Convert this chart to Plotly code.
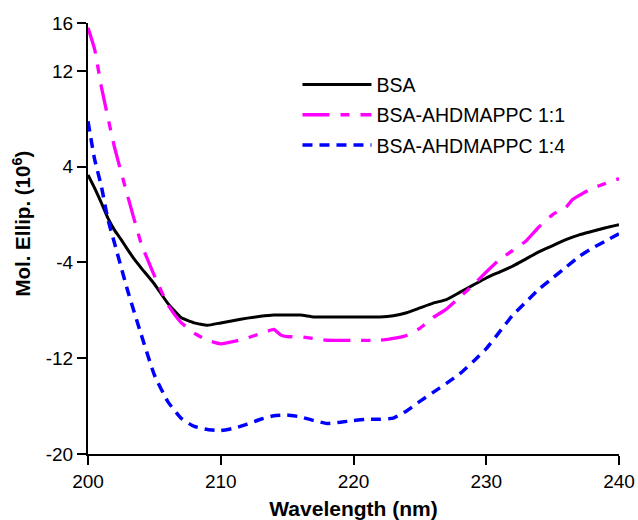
import plotly.graph_objects as go

# CD spectra: wavelength (nm) vs molar ellipticity (x10^6)
bsa_wl = [200, 200.5, 201, 201.5, 202, 202.5, 203, 203.5, 204, 205, 206, 207, 208, 209, 210,
          211, 212, 213, 214, 215, 216, 217, 218, 220, 222, 223, 224, 225, 226, 227, 228,
          229, 230, 231, 232, 233, 234, 235, 236, 237, 238, 239, 240]
bsa_val = [3.3, 2.2, 1.0, -0.3, -1.3, -2.1, -2.95, -3.75, -4.45, -5.8, -7.4, -8.6, -9.05, -9.25, -9.05,
           -8.85, -8.65, -8.5, -8.4, -8.4, -8.4, -8.55, -8.55, -8.55, -8.55, -8.45, -8.2, -7.8, -7.4, -7.1, -6.5,
           -5.9, -5.3, -4.8, -4.3, -3.7, -3.1, -2.6, -2.1, -1.7, -1.4, -1.1, -0.85]

r11_wl = [200, 200.5, 201, 202, 203, 204, 205, 206, 207, 208, 209, 210, 211, 212, 213, 214,
          214.5, 215, 216, 217, 218, 220, 222, 223, 224, 225, 226, 227, 228, 229, 230, 231,
          232, 233, 234, 235, 236, 236.5, 237, 238, 239, 240]
r11_val = [15.6, 13.8, 10.7, 5.6, 1.5, -2.4, -5.1, -7.5, -9.0, -9.9, -10.5, -10.8, -10.6, -10.3, -9.95, -9.6,
           -10.05, -10.2, -10.2, -10.35, -10.5, -10.5, -10.5, -10.35, -10.1, -9.5, -8.6, -7.9, -6.9, -5.9, -4.8, -3.75,
           -3.0, -2.2, -1.0, 0.0, 0.6, 1.25, 1.6, 2.2, 2.6, 3.0]

r14_wl = [200, 200.5, 201, 201.5, 202, 203, 204, 205, 206, 207, 208, 209, 210, 211, 212, 213,
          214, 215, 216, 217, 218, 219, 220, 221, 222, 223, 224, 225, 226, 227, 228, 229,
          230, 231, 232, 233, 234, 235, 236, 237, 238, 239, 240]
r14_val = [7.8, 4.6, 2.4, -0.4, -2.4, -6.4, -10.0, -13.4, -15.6, -17.0, -17.7, -17.95, -18.05, -17.85, -17.5, -17.1,
           -16.8, -16.75, -16.9, -17.2, -17.45, -17.35, -17.2, -17.1, -17.1, -17.0, -16.4, -15.6, -14.85, -14.1, -13.3, -12.3,
           -11.2, -9.8, -8.4, -7.3, -6.2, -5.3, -4.4, -3.5, -2.8, -2.2, -1.6]

x_ticks = [200, 210, 220, 230, 240]
y_ticks = [-20, -12, -4, 4, 12, 16]

FONT = "Liberation Sans, Arial, sans-serif"
TICK_SIZE = 19

fig = go.Figure()
fig.add_trace(go.Scatter(x=bsa_wl, y=bsa_val, mode="lines", name="BSA", legendgroup="a",
                         line=dict(color="black", width=3, shape="spline", smoothing=0.4)))
fig.add_trace(go.Scatter(x=r11_wl, y=r11_val, mode="lines", name="BSA-AHDMAPPC 1:1", legendgroup="b",
                         line=dict(color="#ff00ff", width=3.3, dash="27px,11px,9px,11px",
                                   shape="spline", smoothing=0.4)))
fig.add_trace(go.Scatter(x=r14_wl, y=r14_val, mode="lines", name="BSA-AHDMAPPC 1:4", legendgroup="c",
                         line=dict(color="#0000ff", width=3.5, dash="10px,7px",
                                   shape="spline", smoothing=0.4)))

axis_common = dict(showgrid=False, zeroline=False, showline=True, linecolor="black",
                   linewidth=2, ticks="outside", ticklen=9, tickwidth=2, tickcolor="black",
                   automargin=False,
                   tickfont=dict(family=FONT, size=TICK_SIZE, color="black"))

fig.update_xaxes(range=[200, 240], tickvals=x_ticks, ticktext=[str(v) for v in x_ticks],
                 title=dict(text="<b>Wavelength (nm)</b>", font=dict(family=FONT, size=21, color="black"),
                            standoff=11),
                 **axis_common)
fig.update_yaxes(range=[-20, 16], tickvals=y_ticks, ticktext=[str(v) for v in y_ticks],
                 **axis_common)

# vertical axis title, placed in the left margin
fig.add_annotation(text="<b>Mol. Ellip. (10<sup>6</sup>)</b>", textangle=-90,
                   xref="paper", yref="paper", x=-0.124, y=0.535,
                   xanchor="center", yanchor="middle", showarrow=False,
                   font=dict(family=FONT, size=20.5, color="black"))

fig.update_layout(
    width=638, height=520,
    margin=dict(l=88, r=19, t=23, b=66),
    plot_bgcolor="white", paper_bgcolor="white",
    font=dict(family=FONT, color="black"),
    showlegend=True,
    legend=dict(x=0.3945, y=0.902, xanchor="left", yanchor="top",
                font=dict(family=FONT, size=19.5, color="black"),
                bgcolor="rgba(0,0,0,0)", itemwidth=69, tracegroupgap=2),
)

fig.write_html("out.html")
